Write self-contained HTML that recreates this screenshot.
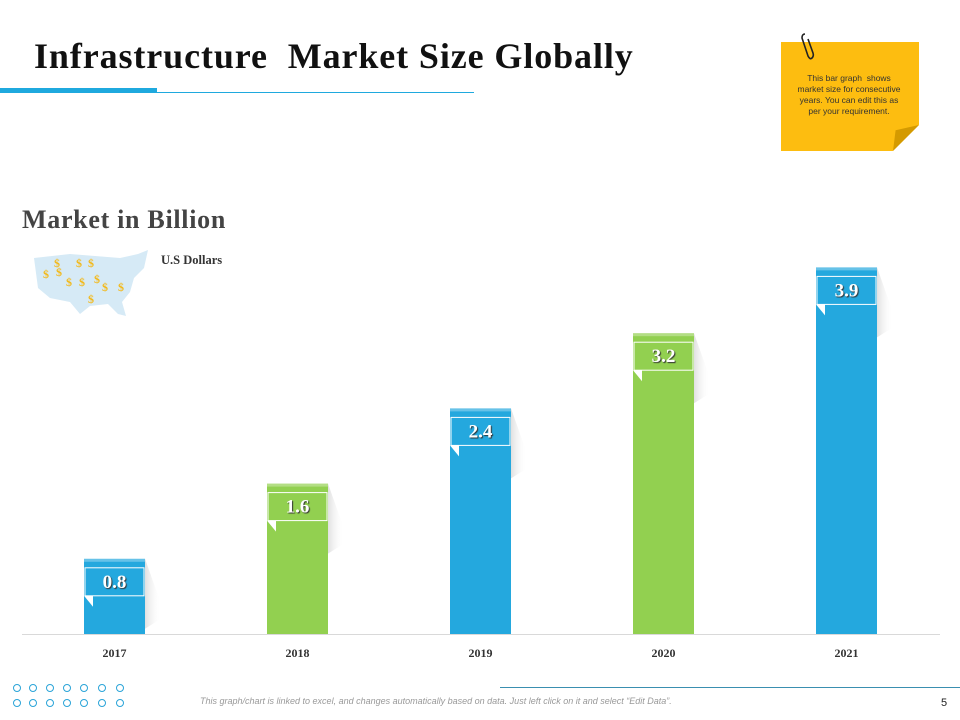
<!DOCTYPE html>
<html><head><meta charset="utf-8">
<style>
body{margin:0;width:960px;height:720px;background:#fff;position:relative;overflow:hidden;font-family:"Liberation Sans",sans-serif}
.abs{position:absolute}
</style></head>
<body>
<div class="abs" style="left:34px;top:35px;font-family:'Liberation Serif',serif;font-weight:bold;font-size:36px;color:#111;letter-spacing:0.9px;white-space:nowrap">Infrastructure&nbsp; Market Size Globally</div>
<div class="abs" style="left:0;top:88px;width:157px;height:5px;background:#1fa9de"></div>
<div class="abs" style="left:157px;top:92px;width:317px;height:1px;background:#1fa9de"></div>

<div class="abs" style="left:781px;top:42px;width:138px;height:109px;background:#fdbd10;clip-path:polygon(0 0,100% 0,100% 76%,81% 100%,0 100%)"></div>
<div class="abs" style="left:893px;top:125px;width:26px;height:26px;background:#d49a00;clip-path:polygon(100% 0,0 100%,10% 20%)"></div>
<svg class="abs" style="left:800px;top:32px" width="16" height="30"><path d="M5 2 Q2 2 2 6 L8 24 Q10 28 12 26 Q14 24 13 21 L8 7" fill="none" stroke="#222" stroke-width="1.6"/></svg>
<div class="abs" style="left:786px;top:73px;width:126px;text-align:center;font-size:8.5px;line-height:11px;color:#333">This bar graph&nbsp; shows<br>market size for consecutive<br>years. You can edit this as<br>per your requirement.</div>

<div class="abs" style="left:22px;top:205px;font-family:'Liberation Serif',serif;font-weight:bold;font-size:26px;color:#444;letter-spacing:0.7px;white-space:nowrap">Market in Billion</div>
<svg class="abs" style="left:30px;top:248px" width="120" height="75">
<path d="M4 10 L40 6 L90 10 L108 6 L118 2 L114 20 L104 30 L100 44 L92 54 L96 68 L88 66 L78 56 L60 58 L50 66 L40 54 L20 50 L8 40 Z" fill="#d6eaf6"/>
<g font-family="Liberation Serif" font-weight="bold" font-size="12" fill="#f2b91c">
<text x="24" y="19">$</text><text x="46" y="19">$</text><text x="58" y="19">$</text><text x="13" y="30">$</text><text x="26" y="28">$</text><text x="36" y="38">$</text><text x="49" y="38">$</text><text x="64" y="35">$</text><text x="72" y="43">$</text><text x="88" y="43">$</text><text x="58" y="55">$</text></g></svg>
<div class="abs" style="left:161px;top:253px;font-family:'Liberation Serif',serif;font-weight:bold;font-size:12.5px;color:#333">U.S Dollars</div>

<svg id="chart" class="abs" style="left:0;top:0" width="960" height="680"></svg>

<div class="abs" style="left:12px;top:683px;width:120px;font-size:0">
<svg width="120" height="28"><g fill="none" stroke="#2aa4d8" stroke-width="1">
<circle cx="5" cy="5" r="3.5"/><circle cx="21" cy="5" r="3.5"/><circle cx="38" cy="5" r="3.5"/><circle cx="55" cy="5" r="3.5"/><circle cx="72" cy="5" r="3.5"/><circle cx="90" cy="5" r="3.5"/><circle cx="108" cy="5" r="3.5"/>
<circle cx="5" cy="20" r="3.5"/><circle cx="21" cy="20" r="3.5"/><circle cx="38" cy="20" r="3.5"/><circle cx="55" cy="20" r="3.5"/><circle cx="72" cy="20" r="3.5"/><circle cx="90" cy="20" r="3.5"/><circle cx="108" cy="20" r="3.5"/></g></svg></div>
<div class="abs" style="left:500px;top:687px;width:460px;height:1px;background:#3a8fb0"></div>
<div class="abs" style="left:200px;top:696px;font-size:9px;font-style:italic;color:#999">This graph/chart is linked to excel, and changes automatically based on data. Just left click on it and select “Edit Data”.</div>
<div class="abs" style="left:941px;top:697px;font-size:11px;color:#222">5</div>

<script>
const categories=["2017","2018","2019","2020","2021"];
const values=[0.8,1.6,2.4,3.2,3.9];
const colors=["#24a8de","#92d050","#24a8de","#92d050","#24a8de"];
const NS="http://www.w3.org/2000/svg";
const svg=document.getElementById('chart');
const baseY=634, perUnit=94, x0=114.5, step=183, bw=61;
const y=v=>baseY-v*perUnit;
const xc=i=>x0+i*step;
function mk(t,a){const e=document.createElementNS(NS,t);for(const k in a)e.setAttribute(k,a[k]);svg.appendChild(e);return e;}
const defs=mk('defs',{});
defs.innerHTML='<linearGradient id="sh" x1="0" x2="1"><stop offset="0" stop-color="#ccc" stop-opacity="0.6"/><stop offset="1" stop-color="#fff" stop-opacity="0"/></linearGradient>';
const axis=mk('line',{x1:22,x2:940,y1:baseY+0.5,y2:baseY+0.5,stroke:'#d9d9d9','stroke-width':1});


values.forEach((v,i)=>{
  const l=xc(i)-bw/2, top=y(v);
  const sh=mk('polygon',{points:`${l+bw},${top} ${l+bw+16},${top+45} ${l+bw+16},${top+60} ${l+bw},${top+70}`,fill:'url(#sh)'});
  
  
  const r=mk('rect',{x:l,y:top,width:bw,height:baseY-top,fill:colors[i]});
  
  
  mk('rect',{x:l,y:top,width:bw,height:3,fill:'#fff','fill-opacity':0.3});
  const b=mk('rect',{x:l+1,y:top+9,width:bw-2,height:28,fill:colors[i],stroke:'#fff','stroke-width':1});
  
  
  mk('polygon',{points:`${l},${top+37} ${l+9},${top+37} ${l+9},${top+48}`,fill:'#fff'});
  const t=mk('text',{x:xc(i),y:top+29,'text-anchor':'middle','font-family':'Liberation Serif','font-weight':'bold','font-size':19,fill:'#fff',style:'text-shadow:1px 1px 1px #333'});
  t.textContent=v.toFixed(1);
  
  
  const c=mk('text',{x:xc(i),y:657,'text-anchor':'middle','font-family':'Liberation Serif','font-weight':'bold','font-size':12,fill:'#333'});
  c.textContent=categories[i];
  
  
});
</script>
</body></html>
